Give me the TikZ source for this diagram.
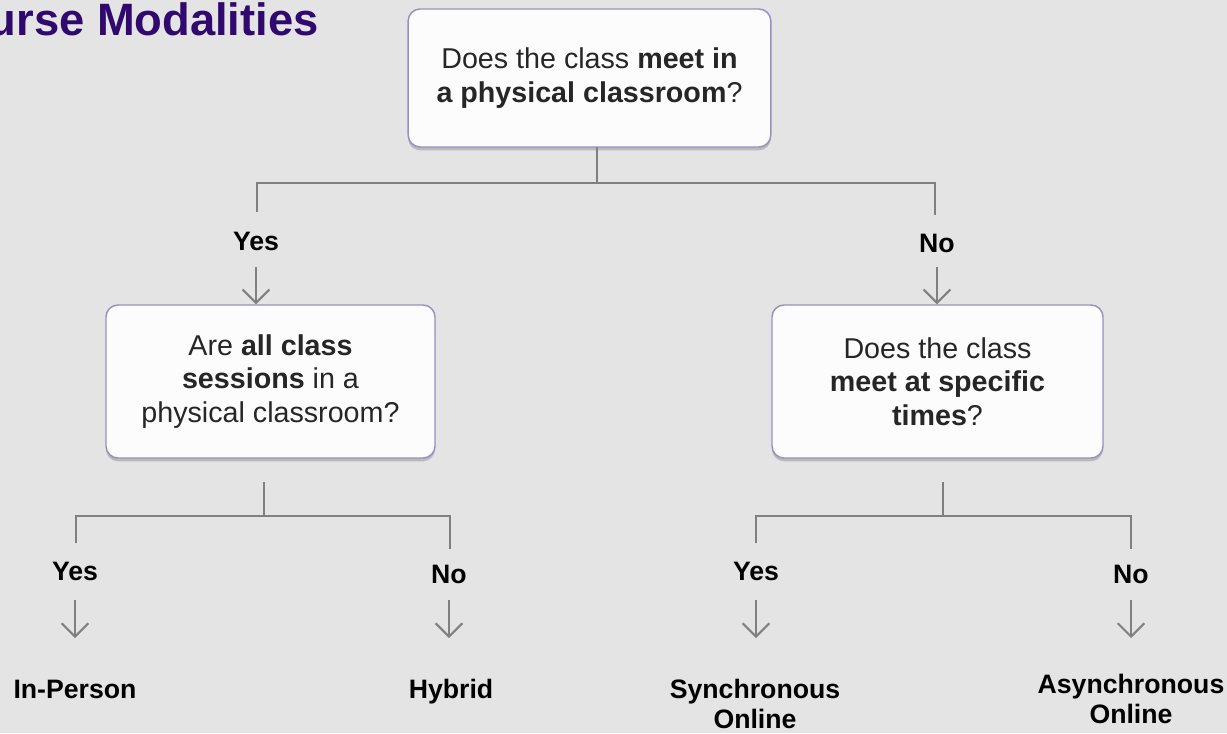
\documentclass[tikz,border=0pt]{standalone}
\usepackage{fontspec}
\setmainfont{Liberation Sans}
\usetikzlibrary{arrows.meta,shadows}
\definecolor{bg}{RGB}{228,228,228}
\definecolor{ttl}{RGB}{48,8,110}
\definecolor{bord}{RGB}{155,143,192}
\definecolor{ln}{RGB}{128,128,128}
\definecolor{boxfill}{RGB}{252,252,252}
\begin{document}
\begin{tikzpicture}[x=0.75pt,y=-0.75pt,
 qbox/.style={draw=bord, line width=1.1pt, fill=boxfill, rounded corners=9pt, align=center,
   font=\fontsize{21.5}{25}\selectfont, text=black!85,
   drop shadow={shadow xshift=0pt, shadow yshift=-2.5pt, opacity=0.18, fill=black}},
 lbl/.style={font=\bfseries\fontsize{20}{23}\selectfont, align=center, text=black, inner sep=0pt},
 conn/.style={draw=ln, line width=1.5pt},
 arr/.style={conn, -{Straight Barb[length=10pt,width=20pt]}}
]
\path[fill=bg] (0,0) rectangle (1227,733);
\useasboundingbox (0,0) rectangle (1227,733);

\node[anchor=base east, font=\bfseries\fontsize{34}{40}\selectfont, text=ttl, inner sep=0pt] (title) at (319,35) {Course Modalities};

% question boxes
\node[qbox, minimum width=272pt, minimum height=103.5pt] (q1) at (589.5,78)
  {Does the class \textbf{meet in}\\\textbf{a physical classroom}?};
\node[qbox, minimum width=246.75pt, minimum height=114.75pt] (q2) at (270.5,381.5)
  {Are \textbf{all class}\\\textbf{sessions} in a\\physical classroom?};
\node[qbox, minimum width=248.25pt, minimum height=114.75pt] (q3) at (937.5,381.5)
  {Does the class\\\textbf{meet at specific}\\\textbf{times}?};

% first split
\coordinate (q1s) at (597,147);
\coordinate (j1) at (597,183);
\coordinate (j1l) at (257,183);
\coordinate (j1r) at (935,183);
\coordinate (y1t) at (257,212);
\coordinate (n1t) at (935,215);
\draw[conn] (q1s) -- (j1);
\draw[conn] (y1t) -- (j1l) -- (j1r) -- (n1t);
\node[lbl, anchor=base] (yes1) at (256,250) {Yes};
\node[lbl, anchor=base] (no1) at (937,252) {No};
\coordinate (a1) at (256,267);
\coordinate (a2) at (937,267);
\draw[arr] (a1) -- (a1 |- q2.north);
\draw[arr] (a2) -- (a2 |- q3.north);

% left split
\coordinate (s2t) at (264,482);
\coordinate (j2) at (264,516);
\coordinate (j2l) at (76,516);
\coordinate (j2r) at (450,516);
\coordinate (y2t) at (76,543);
\coordinate (n2t) at (450,549);
\draw[conn] (s2t) -- (j2);
\draw[conn] (y2t) -- (j2l) -- (j2r) -- (n2t);
\node[lbl, anchor=base] (yes2) at (75,580) {Yes};
\node[lbl, anchor=base] (no2) at (449,583) {No};

% right split
\coordinate (s3t) at (943,482);
\coordinate (j3) at (943,516);
\coordinate (j3l) at (756,516);
\coordinate (j3r) at (1131,516);
\coordinate (y3t) at (756,543);
\coordinate (n3t) at (1131,549);
\draw[conn] (s3t) -- (j3);
\draw[conn] (y3t) -- (j3l) -- (j3r) -- (n3t);
\node[lbl, anchor=base] (yes3) at (756,580) {Yes};
\node[lbl, anchor=base] (no3) at (1131,583) {No};

% outcomes
\node[lbl, anchor=base] (inp) at (75,698) {In-Person};
\node[lbl, anchor=base] (hyb) at (451,698) {Hybrid};
\node[lbl] (syn) at (755,704) {Synchronous\\Online};
\node[lbl] (asy) at (1131,699) {Asynchronous\\Online};

\coordinate (b1) at (75,600);
\coordinate (b2) at (449,600);
\coordinate (b3) at (756,600);
\coordinate (b4) at (1131,600);
\draw[arr] (b1) -- ++(0,38) coordinate (b1e);
\draw[arr] (b2) -- ++(0,38) coordinate (b2e);
\draw[arr] (b3) -- ++(0,38) coordinate (b3e);
\draw[arr] (b4) -- ++(0,38) coordinate (b4e);
\end{tikzpicture}
\end{document}
